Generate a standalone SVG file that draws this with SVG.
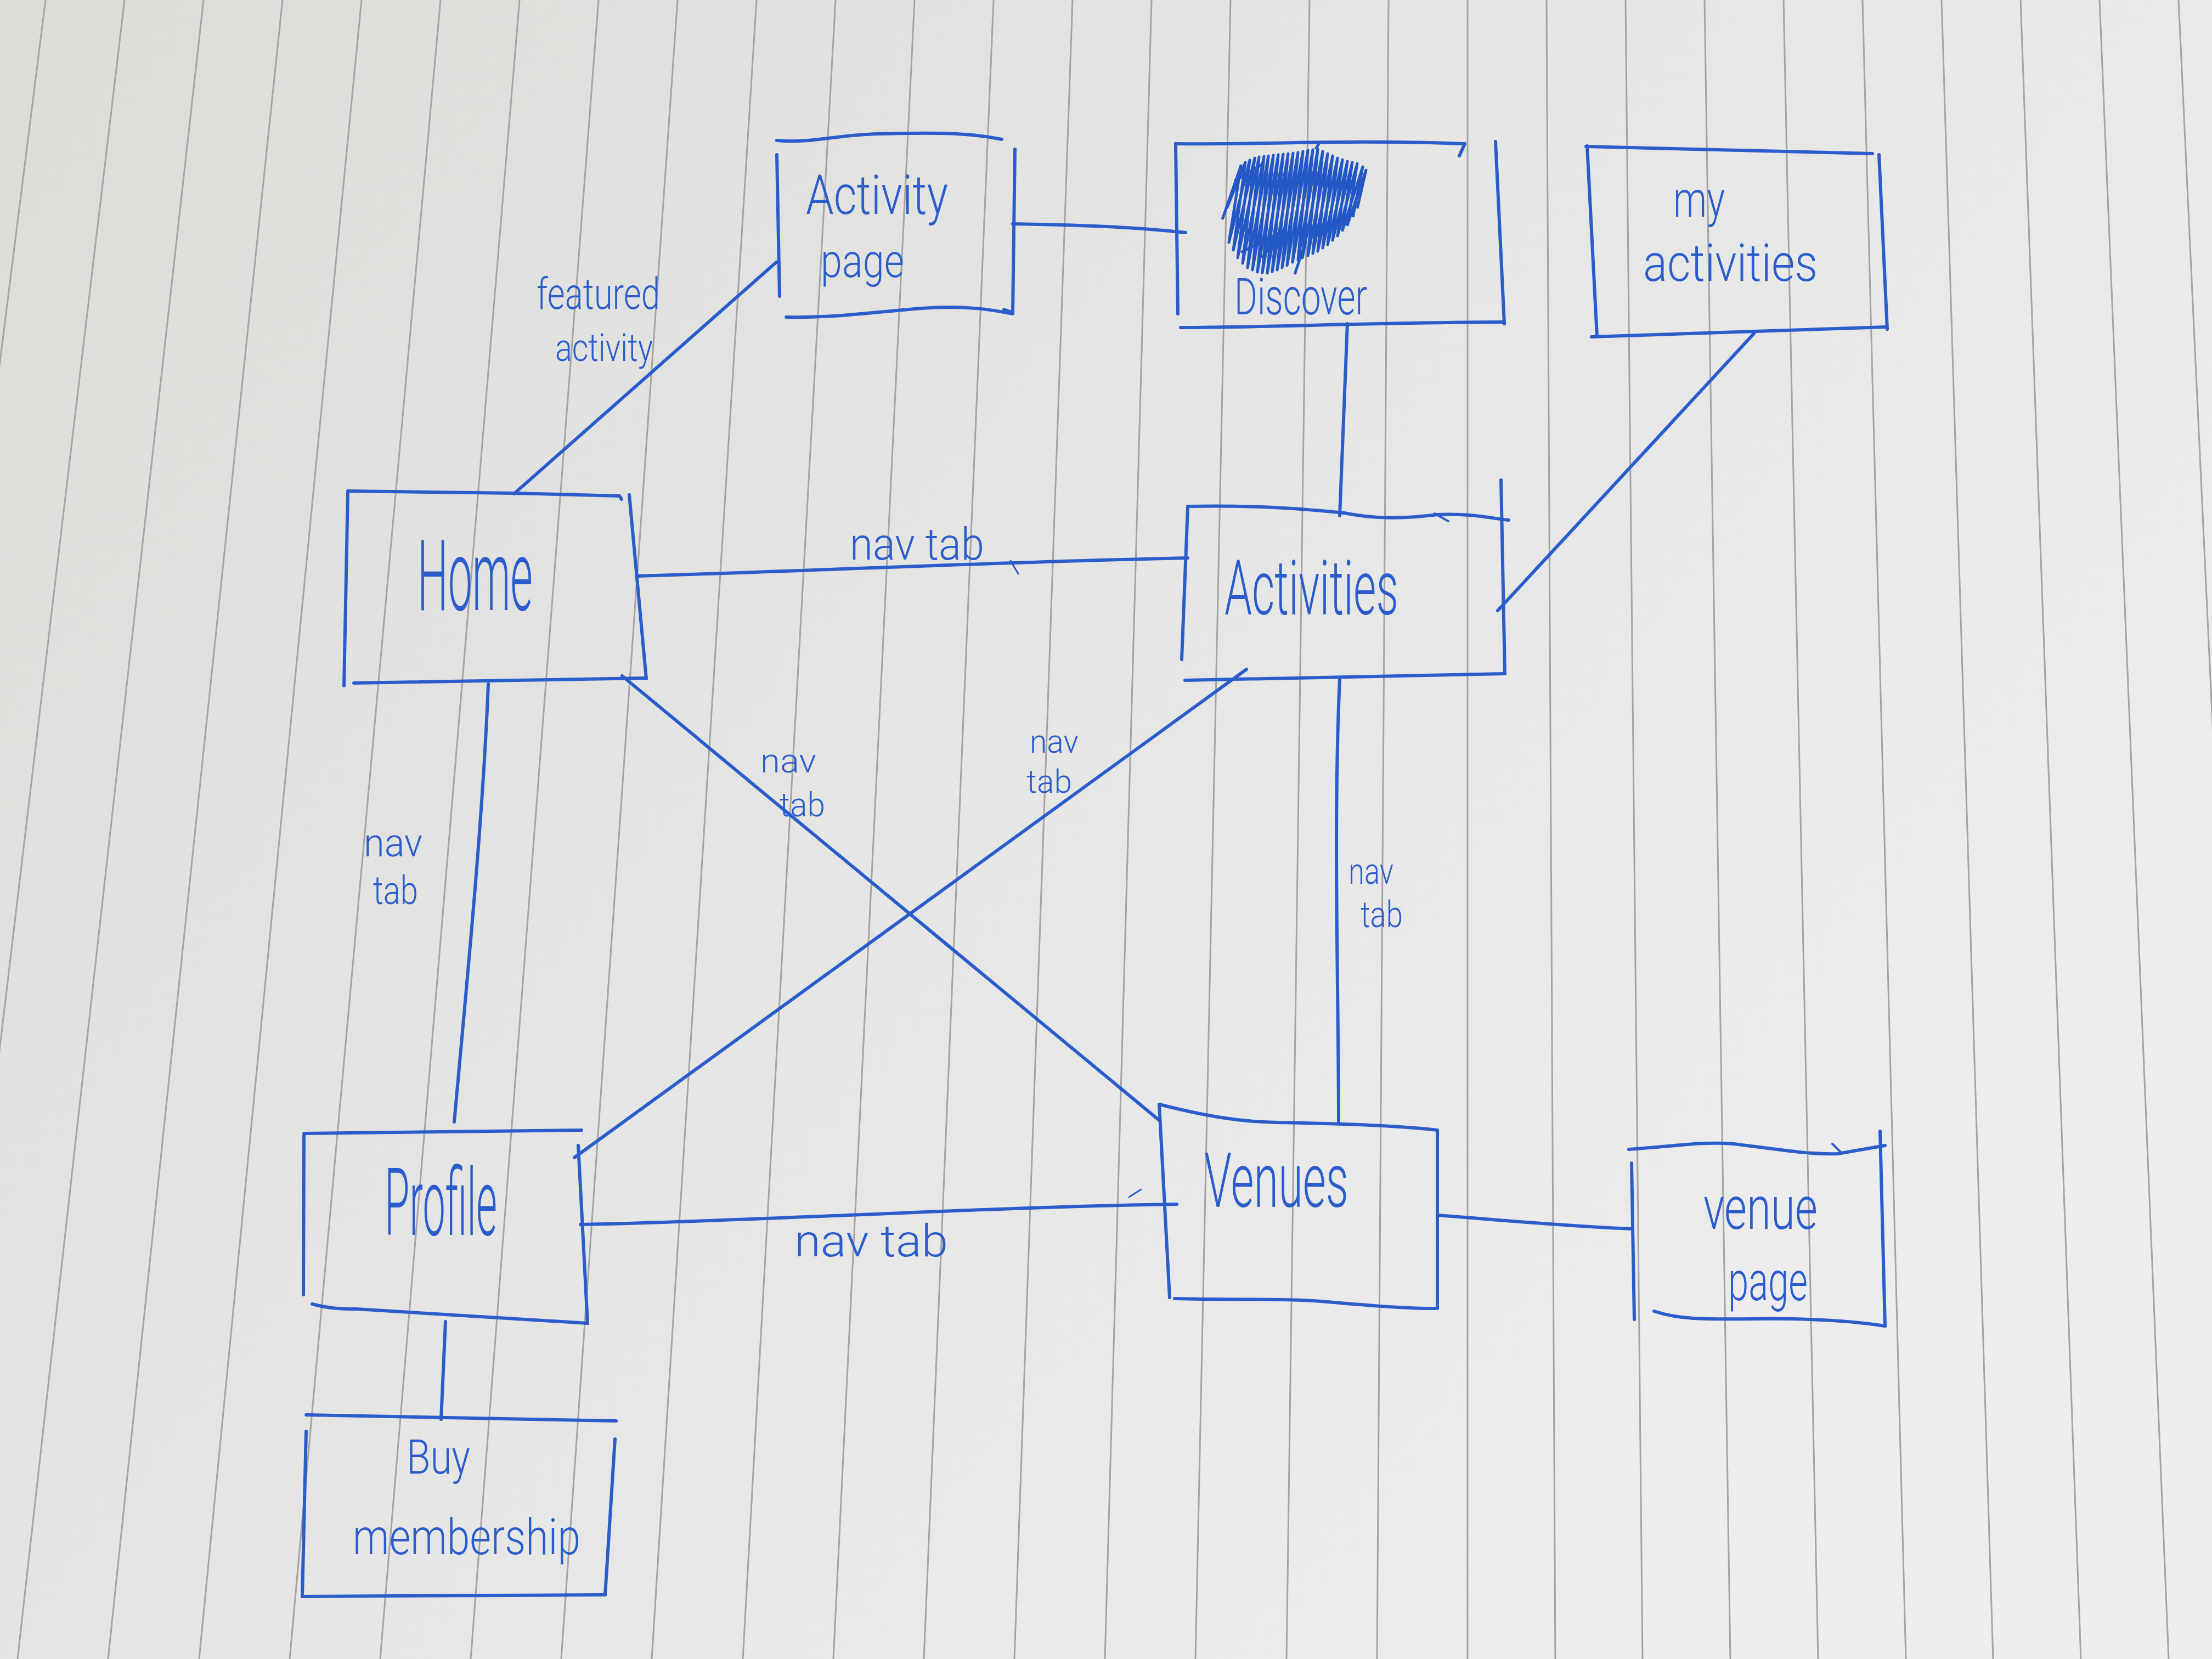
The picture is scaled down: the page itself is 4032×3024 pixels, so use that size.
<svg xmlns="http://www.w3.org/2000/svg" width="4032" height="3024" viewBox="0 0 4032 3024">
<defs>
<linearGradient id="paper" x1="0" y1="0" x2="1" y2="0.6">
<stop offset="0" stop-color="#dcdcd9"/>
<stop offset="0.5" stop-color="#e5e5e4"/>
<stop offset="1" stop-color="#ededef"/>
</linearGradient>
<style>
.rule{stroke:#a3a3a3;stroke-width:3;fill:none}
.ink{stroke:#2a5ccc;stroke-width:6;fill:none;stroke-linecap:round;stroke-linejoin:round}
.scrib{stroke:#2457c6;stroke-width:5;fill:none;stroke-linejoin:round}
.t{fill:#2a5ccc;font-family:Roboto,"Liberation Sans",sans-serif;font-weight:300}
</style>
</defs>
<rect x="0" y="0" width="4032" height="3024" fill="url(#paper)"/>
<g id="paper-rules">
<line class="rule" x1="83" y1="0" x2="-298" y2="3024"/>
<line class="rule" x1="227" y1="0" x2="-133" y2="3024"/>
<line class="rule" x1="371" y1="0" x2="32" y2="3024"/>
<line class="rule" x1="515" y1="0" x2="197" y2="3024"/>
<line class="rule" x1="659" y1="0" x2="363" y2="3024"/>
<line class="rule" x1="803" y1="0" x2="528" y2="3024"/>
<line class="rule" x1="947" y1="0" x2="693" y2="3024"/>
<line class="rule" x1="1091" y1="0" x2="858" y2="3024"/>
<line class="rule" x1="1235" y1="0" x2="1023" y2="3024"/>
<line class="rule" x1="1379" y1="0" x2="1188" y2="3024"/>
<line class="rule" x1="1523" y1="0" x2="1354" y2="3024"/>
<line class="rule" x1="1667" y1="0" x2="1519" y2="3024"/>
<line class="rule" x1="1811" y1="0" x2="1684" y2="3024"/>
<line class="rule" x1="1955" y1="0" x2="1849" y2="3024"/>
<line class="rule" x1="2099" y1="0" x2="2014" y2="3024"/>
<line class="rule" x1="2243" y1="0" x2="2179" y2="3024"/>
<line class="rule" x1="2387" y1="0" x2="2345" y2="3024"/>
<line class="rule" x1="2531" y1="0" x2="2510" y2="3024"/>
<line class="rule" x1="2675" y1="0" x2="2675" y2="3024"/>
<line class="rule" x1="2819" y1="0" x2="2835" y2="3024"/>
<line class="rule" x1="2963" y1="0" x2="2994" y2="3024"/>
<line class="rule" x1="3107" y1="0" x2="3154" y2="3024"/>
<line class="rule" x1="3251" y1="0" x2="3314" y2="3024"/>
<line class="rule" x1="3395" y1="0" x2="3474" y2="3024"/>
<line class="rule" x1="3539" y1="0" x2="3633" y2="3024"/>
<line class="rule" x1="3683" y1="0" x2="3793" y2="3024"/>
<line class="rule" x1="3827" y1="0" x2="3953" y2="3024"/>
<line class="rule" x1="3971" y1="0" x2="4113" y2="3024"/>
</g>
<g id="connectors">
<path class="ink" d="M937 900 L1415 478"/>
<path class="ink" d="M1846 408 C1950 410 2050 412 2161 424"/>
<path class="ink" d="M2456 590 L2442 940"/>
<path class="ink" d="M3197 608 L2730 1113"/>
<path class="ink" d="M1160 1050 C1500 1040 1800 1025 2165 1017"/>
<path class="ink" d="M1842 1022 L1856 1046" style="stroke-width:3"/>
<path class="ink" d="M890 1247 C880 1500 850 1800 828 2045"/>
<path class="ink" d="M1134 1232 L2113 2042"/>
<path class="ink" d="M2272 1220 L1047 2110"/>
<path class="ink" d="M2442 1238 C2430 1500 2440 1800 2440 2047"/>
<path class="ink" d="M1058 2232 C1400 2225 1800 2200 2145 2195"/>
<path class="ink" d="M2058 2182 L2080 2168" style="stroke-width:3"/>
<path class="ink" d="M2620 2215 C2750 2225 2850 2235 2974 2240"/>
<path class="ink" d="M812 2409 L804 2587"/>
<text class="t" x="978" y="563" font-size="80" textLength="225" lengthAdjust="spacingAndGlyphs">featured</text>
<text class="t" x="1012" y="658" font-size="70" textLength="178" lengthAdjust="spacingAndGlyphs">activity</text>
<text class="t" x="1549" y="1020" font-size="82" textLength="245" lengthAdjust="spacingAndGlyphs">nav tab</text>
<text class="t" x="663" y="1561" font-size="72" textLength="107" lengthAdjust="spacingAndGlyphs">nav</text>
<text class="t" x="680" y="1648" font-size="72" textLength="82" lengthAdjust="spacingAndGlyphs">tab</text>
<text class="t" x="1386" y="1408" font-size="62" textLength="102" lengthAdjust="spacingAndGlyphs">nav</text>
<text class="t" x="1421" y="1488" font-size="62" textLength="83" lengthAdjust="spacingAndGlyphs">tab</text>
<text class="t" x="1877" y="1372" font-size="60" textLength="89" lengthAdjust="spacingAndGlyphs">nav</text>
<text class="t" x="1871" y="1445" font-size="60" textLength="83" lengthAdjust="spacingAndGlyphs">tab</text>
<text class="t" x="2458" y="1611" font-size="66" textLength="82" lengthAdjust="spacingAndGlyphs">nav</text>
<text class="t" x="2480" y="1690" font-size="66" textLength="77" lengthAdjust="spacingAndGlyphs">tab</text>
<text class="t" x="1448" y="2290" font-size="82" textLength="280" lengthAdjust="spacingAndGlyphs">nav tab</text>
</g>
<g id="node-activity-page">
<path class="ink" d="M1416 256 C1480 262 1520 246 1600 244 C1680 242 1760 240 1826 254"/>
<path class="ink" d="M1416 282 L1421 540"/>
<path class="ink" d="M1850 272 L1846 570 L1830 564"/>
<path class="ink" d="M1433 578 C1520 580 1600 568 1680 562 C1760 556 1810 565 1846 572"/>
<text class="t" x="1469" y="390" font-size="100" textLength="259" lengthAdjust="spacingAndGlyphs">Activity</text>
<text class="t" x="1496" y="505" font-size="85" textLength="152" lengthAdjust="spacingAndGlyphs">page</text>
</g>
<g id="node-discover">
<path class="ink" d="M2143 262 C2300 264 2450 254 2670 262 L2660 284"/>
<path class="ink" d="M2143 262 L2147 572"/>
<path class="ink" d="M2726 258 L2742 590"/>
<path class="ink" d="M2152 597 C2300 597 2500 588 2742 587"/>
<path class="scrib" d="M2228 400 L2262 302 L2240 442 L2278 292 L2256 470 L2295 286 L2274 488 L2312 284 L2292 496 L2330 282 L2310 498 L2348 280 L2328 492 L2366 278 L2346 484 L2384 274 L2366 474 L2402 272 L2384 466 L2420 280 L2402 458 L2438 288 L2420 446 L2456 294 L2438 430 L2474 298 L2456 410 L2490 310 L2474 380"/>
<path class="scrib" d="M2236 380 L2270 296 L2248 456 L2287 288 L2265 480 L2304 285 L2283 492 L2321 283 L2301 497 L2339 281 L2319 495 L2357 279 L2337 488 L2375 276 L2356 478 L2393 273 L2374 470 L2411 276 L2393 462 L2429 284 L2411 452 L2447 291 L2429 438 L2465 296 L2447 420 L2484 304 L2466 396"/>
<path class="scrib" d="M2398 272 L2404 262 M2250 330 L2300 300 M2262 460 L2340 420 L2300 470 M2360 500 L2380 440"/>
<text class="t" x="2250" y="573" font-size="92" textLength="242" lengthAdjust="spacingAndGlyphs">Discover</text>
</g>
<g id="node-my-activities">
<path class="ink" d="M2891 267 L3413 280"/>
<path class="ink" d="M2893 266 L2911 613"/>
<path class="ink" d="M3425 282 L3440 600"/>
<path class="ink" d="M2901 614 L3438 596"/>
<text class="t" x="3050" y="395" font-size="90" textLength="94" lengthAdjust="spacingAndGlyphs">my</text>
<text class="t" x="2995" y="512" font-size="95" textLength="318" lengthAdjust="spacingAndGlyphs">activities</text>
</g>
<g id="node-home">
<path class="ink" d="M634 895 L937 899 L1129 904 L1133 910"/>
<path class="ink" d="M634 897 L627 1250"/>
<path class="ink" d="M1147 902 L1178 1237"/>
<path class="ink" d="M645 1245 L1178 1236"/>
<text class="t" x="761" y="1112" font-size="180" textLength="210" lengthAdjust="spacingAndGlyphs">Home</text>
</g>
<g id="node-activities">
<path class="ink" d="M2165 923 C2300 920 2400 930 2450 935 C2500 945 2550 947 2620 938 C2680 935 2720 945 2750 948"/>
<path class="ink" d="M2615 936 L2640 950" style="stroke-width:4"/>
<path class="ink" d="M2165 925 L2154 1202"/>
<path class="ink" d="M2736 875 L2743 1228"/>
<path class="ink" d="M2160 1240 L2743 1228"/>
<text class="t" x="2232" y="1120" font-size="140" textLength="317" lengthAdjust="spacingAndGlyphs">Activities</text>
</g>
<g id="node-profile">
<path class="ink" d="M554 2066 L1060 2060"/>
<path class="ink" d="M554 2070 L553 2360"/>
<path class="ink" d="M1054 2088 L1071 2412"/>
<path class="ink" d="M569 2377 C600 2385 620 2386 650 2386 L1071 2412"/>
<text class="t" x="701" y="2251" font-size="170" textLength="205" lengthAdjust="spacingAndGlyphs">Profile</text>
</g>
<g id="node-buy-membership">
<path class="ink" d="M558 2579 L1123 2590"/>
<path class="ink" d="M558 2609 L551 2910"/>
<path class="ink" d="M1121 2623 L1103 2907"/>
<path class="ink" d="M551 2910 L1103 2907"/>
<text class="t" x="741" y="2686" font-size="88" textLength="116" lengthAdjust="spacingAndGlyphs">Buy</text>
<text class="t" x="643" y="2833" font-size="90" textLength="415" lengthAdjust="spacingAndGlyphs">membership</text>
</g>
<g id="node-venues">
<path class="ink" d="M2113 2013 C2180 2030 2250 2045 2330 2046 C2420 2048 2530 2050 2620 2060"/>
<path class="ink" d="M2113 2013 L2132 2365"/>
<path class="ink" d="M2620 2060 L2620 2385"/>
<path class="ink" d="M2141 2367 C2250 2370 2350 2366 2420 2373 C2500 2380 2560 2385 2616 2385"/>
<text class="t" x="2195" y="2200" font-size="140" textLength="263" lengthAdjust="spacingAndGlyphs">Venues</text>
</g>
<g id="node-venue-page">
<path class="ink" d="M2969 2095 C3050 2090 3100 2080 3160 2085 C3240 2095 3300 2105 3350 2103 L3436 2088"/>
<path class="ink" d="M3340 2085 L3355 2100" style="stroke-width:4"/>
<path class="ink" d="M2974 2120 L2979 2405"/>
<path class="ink" d="M3427 2062 L3436 2417"/>
<path class="ink" d="M3015 2390 C3060 2405 3100 2405 3200 2404 C3300 2403 3380 2408 3436 2417"/>
<text class="t" x="3105" y="2240" font-size="110" textLength="208" lengthAdjust="spacingAndGlyphs">venue</text>
<text class="t" x="3150" y="2370" font-size="100" textLength="145" lengthAdjust="spacingAndGlyphs">page</text>
</g>
</svg>
